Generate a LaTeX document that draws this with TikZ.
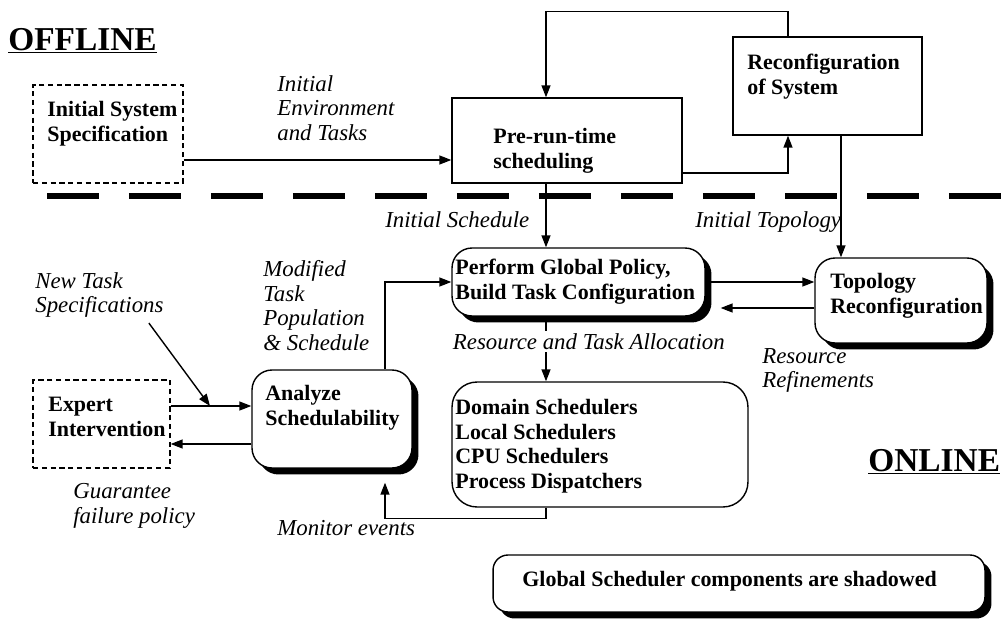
\documentclass[tikz,border=0pt]{standalone}
\usepackage{fontspec}
\setmainfont{Liberation Serif}
\usepackage{tikz}
\usetikzlibrary{arrows.meta,shadows}

\newcommand{\boxfont}{\fontsize{12.5}{14}\selectfont\bfseries}
\newcommand{\lblfont}{\fontsize{13}{14}\selectfont\itshape}

\begin{document}
\begin{tikzpicture}[x=0.02cm, y=-0.02cm,
  box/.style={draw, fill=white, line width=0.8pt, inner sep=0pt},
  dbox/.style={box, dash pattern=on 3pt off 2pt},
  rbox/.style={box, rounded corners=0.4cm},
  shadowed/.style={drop shadow={shadow xshift=0.13cm, shadow yshift=-0.13cm, fill=black, opacity=1}},
  txt/.style={anchor=north west, inner sep=0pt, align=left, font=\boxfont},
  lbl/.style={anchor=north west, inner sep=0pt, align=left, font=\lblfont},
  arr/.style={line width=0.8pt, -{Triangle[length=0.24cm, width=0.18cm]}},
  sepline/.style={line width=0.12cm, dash pattern=on 1.04cm off 0.6cm}]
\useasboundingbox (0,0) rectangle (1002,619);

% offline part
\node[anchor=base west, inner sep=0pt, font=\fontsize{19}{22}\selectfont\bfseries] (offline) at (8,50) {\underline{OFFLINE}};
\node[dbox, minimum width=3cm, minimum height=1.96cm] (iss) at (108,134) {};
\node[txt] (isstxt) at (47,101) {Initial System\\Specification};
\node[box, minimum width=4.6cm, minimum height=1.7cm] (pre) at (567,140.5) {};
\node[txt] (pretxt) at (493,128) {Pre-run-time\\scheduling};
\node[box, minimum width=3.78cm, minimum height=1.96cm] (rec) at (827.5,86) {};
\node[txt] (rectxt) at (747,54) {Reconfiguration\\of System};
\node[lbl] (envlbl) at (277,75) {Initial\\Environment\\and Tasks};

\draw[sepline] (47,196) -- (1002,196);

% online part
\node[rbox, shadowed, minimum width=5.06cm, minimum height=1.36cm] (pgp) at (578.5,282) {};
\node[txt] (pgptxt) at (455,259) {Perform Global Policy,\\Build Task Configuration};
\node[rbox, shadowed, minimum width=3.44cm, minimum height=1.7cm] (topo) at (901,300.5) {};
\node[txt] (topotxt) at (830,273) {Topology\\Reconfiguration};
\node[box, rounded corners=0.5cm, minimum width=5.92cm, minimum height=2.5cm] (dom) at (600,444.5) {};
\node[txt] (domtxt) at (455,399) {Domain Schedulers\\Local Schedulers\\CPU Schedulers\\Process Dispatchers};
\node[rbox, shadowed, minimum width=3.2cm, minimum height=1.96cm] (ana) at (332,419) {};
\node[txt] (anatxt) at (265,385) {Analyze\\Schedulability};
\node[dbox, minimum width=2.74cm, minimum height=1.76cm] (exp) at (101.5,424) {};
\node[txt] (exptxt) at (48,397) {Expert\\Intervention};
\node[box, shadowed, rounded corners=0.3cm, minimum width=9.84cm, minimum height=1.14cm] (leg) at (739,583.5) {};
\node[anchor=base west, inner sep=0pt, font=\boxfont] (legtxt) at (522,586) {Global Scheduler components are shadowed};
\node[anchor=base west, inner sep=0pt, font=\fontsize{19}{22}\selectfont\bfseries] (online) at (868,471) {\underline{ONLINE}};

\node[anchor=base west, inner sep=0pt, font=\lblfont] (schedlbl) at (385,227) {Initial Schedule};
\node[anchor=base west, inner sep=0pt, font=\lblfont] (topolbl) at (695,227) {Initial Topology};
\node[lbl] (modlbl) at (263,260) {Modified\\Task\\Population\\\& Schedule};
\node[lbl] (ntslbl) at (35,272) {New Task\\Specifications};
\node[lbl] (reflbl) at (762,348) {Resource\\Refinements};
\node[lbl] (gfplbl) at (73,483) {Guarantee\\failure policy};
\node[anchor=base west, inner sep=0pt, font=\lblfont] (monlbl) at (277,535) {Monitor events};
\coordinate (ntsend) at (210,406);

% connectors
\draw[arr] ([yshift=-0.52cm]iss.east) -- ([yshift=-0.52cm]iss.east -| pre.west);
\draw[arr] ([xshift=-0.79cm]rec.north) -- ++(0,-25) -| ([xshift=-0.42cm]pre.north);
\draw[arr] ([yshift=-0.65cm]pre.east) -| ([xshift=-0.79cm]rec.south);
\draw[arr] ([xshift=0.27cm]rec.south) -- ([xshift=0.27cm]rec.south |- topo.north);
\draw[arr] ([xshift=-0.42cm]pre.south) -- ([xshift=-0.42cm]pre.south |- pgp.north);
\draw[arr] (pgp.east) -- (pgp.east -| topo.west);
\draw[arr] ([yshift=-0.52cm]pgp.east -| topo.west) -- ([xshift=0.3cm, yshift=-0.52cm]pgp.east);
\draw[arr] ([xshift=-0.65cm]pgp.south) -- ([xshift=-0.65cm]pgp.south |- dom.north);
\node[anchor=base west, inner sep=1.5pt, fill=white, font=\lblfont] (alloclbl) at (450,349) {Resource and Task Allocation};
\draw[arr] ([xshift=-1.08cm]dom.south) -- ++(0,11) -| ([xshift=1.06cm, yshift=-0.28cm]ana.south);
\draw[arr] ([xshift=1.06cm]ana.north) |- (pgp.west);
\draw[arr] ([yshift=0.36cm]exp.east) -- ([yshift=0.36cm]exp.east -| ana.west);
\draw[arr] ([yshift=-0.4cm]exp.east -| ana.west) -- ([yshift=-0.4cm]exp.east);
\draw[arr] ([xshift=-0.3cm, yshift=-0.1cm]ntslbl.south east) -- (ntsend);
\end{tikzpicture}
\end{document}
